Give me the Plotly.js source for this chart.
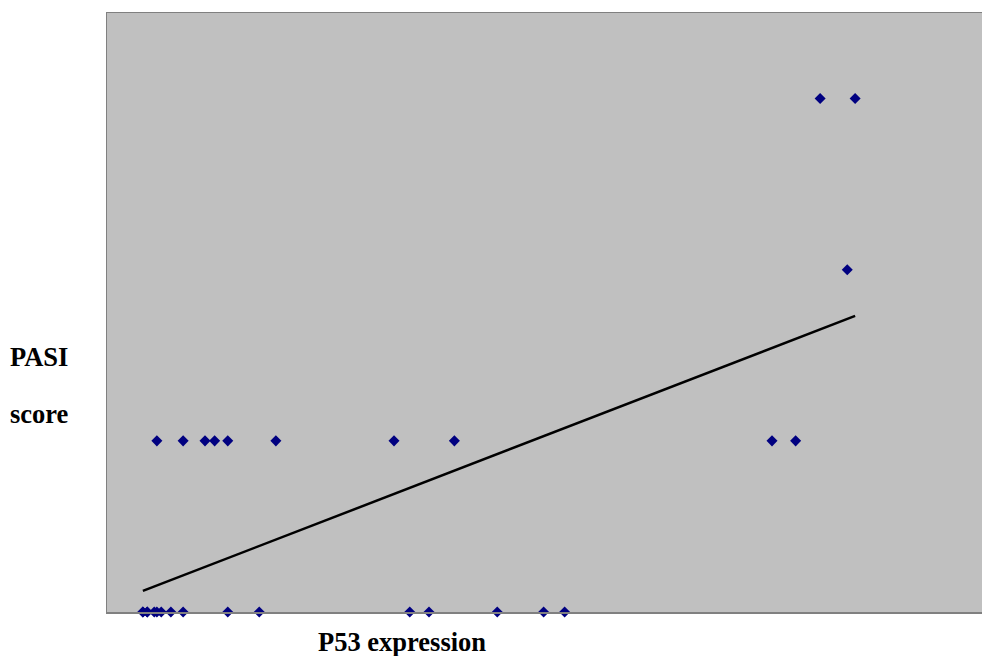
<!DOCTYPE html>
<html>
<head>
<meta charset="utf-8">
<script src="https://cdn.plot.ly/plotly-3.0.1.min.js"></script>
<style>html,body{margin:0;padding:0;background:#fff;}#chart{width:982px;height:656px;}</style>
</head>
<body>
<div id="chart"></div>
<script>
// P53 expression values grouped by PASI score level
const p53Score0 = [4.1, 4.1, 4.6, 4.6, 5.4, 5.7, 6.2, 7.3, 8.7, 13.8, 17.4, 34.6, 36.8, 44.6, 49.9, 52.3];
const p53Score1 = [5.7, 8.7, 11.2, 12.3, 13.8, 19.3, 32.8, 39.7, 76.0, 78.7];
const p53Score2 = [84.6];
const p53Score3 = [81.5, 85.5];
const pasiLevels = [0, 1, 2, 3];

const xs = [], ys = [];
[p53Score0, p53Score1, p53Score2, p53Score3].forEach((arr, i) => {
  arr.forEach(v => { xs.push(v); ys.push(pasiLevels[i]); });
});

// least squares trend line
const n = xs.length;
const mx = xs.reduce((a, b) => a + b, 0) / n;
const my = ys.reduce((a, b) => a + b, 0) / n;
let sxy = 0, sxx = 0;
for (let i = 0; i < n; i++) { sxy += (xs[i] - mx) * (ys[i] - my); sxx += (xs[i] - mx) * (xs[i] - mx); }
const slope = sxy / sxx;
const intercept = my - slope * mx;
const xMin = Math.min(...xs), xMax = Math.max(...xs);
const trendX = [xMin, xMax];
const trendY = trendX.map(x => intercept + slope * x);

const data = [
  {x: trendX, y: trendY, type: 'scatter', mode: 'lines', line: {color: '#000000', width: 2.5}, hoverinfo: 'skip', cliponaxis: false},
  {x: xs, y: ys, type: 'scatter', mode: 'markers', marker: {symbol: 'diamond', size: 8.5, color: '#000080'}, cliponaxis: false}
];

const fnt = {family: 'Liberation Serif, Times New Roman, serif', size: 26.5, color: '#000000'};
const layout = {
  width: 982, height: 656,
  margin: {l: 107, r: 0, t: 12.5, b: 43.5, pad: 0},
  paper_bgcolor: '#ffffff',
  plot_bgcolor: '#C0C0C0',
  showlegend: false,
  xaxis: {range: [0, 100], showticklabels: false, ticks: '', showgrid: false, zeroline: false,
          showline: true, linecolor: '#808080', linewidth: 1.5, mirror: true},
  yaxis: {range: [0, 3.5], showticklabels: false, ticks: '', showgrid: false, zeroline: false,
          showline: true, linecolor: '#808080', linewidth: 1.5},
  annotations: [
    {text: '<b>PASI</b>', xref: 'paper', yref: 'paper', x: -0.1132, y: 0.4258, xanchor: 'left', yanchor: 'middle', showarrow: false, font: fnt},
    {text: '<b>score</b>', xref: 'paper', yref: 'paper', x: -0.1132, y: 0.3308, xanchor: 'left', yanchor: 'middle', showarrow: false, font: fnt},
    {text: '<b>P53 expression</b>', xref: 'paper', yref: 'paper', x: 0.337, y: -0.0508, xanchor: 'center', yanchor: 'middle', showarrow: false, font: fnt}
  ]
};

Plotly.newPlot('chart', data, layout, {displayModeBar: false, staticPlot: true});
</script>
</body>
</html>
